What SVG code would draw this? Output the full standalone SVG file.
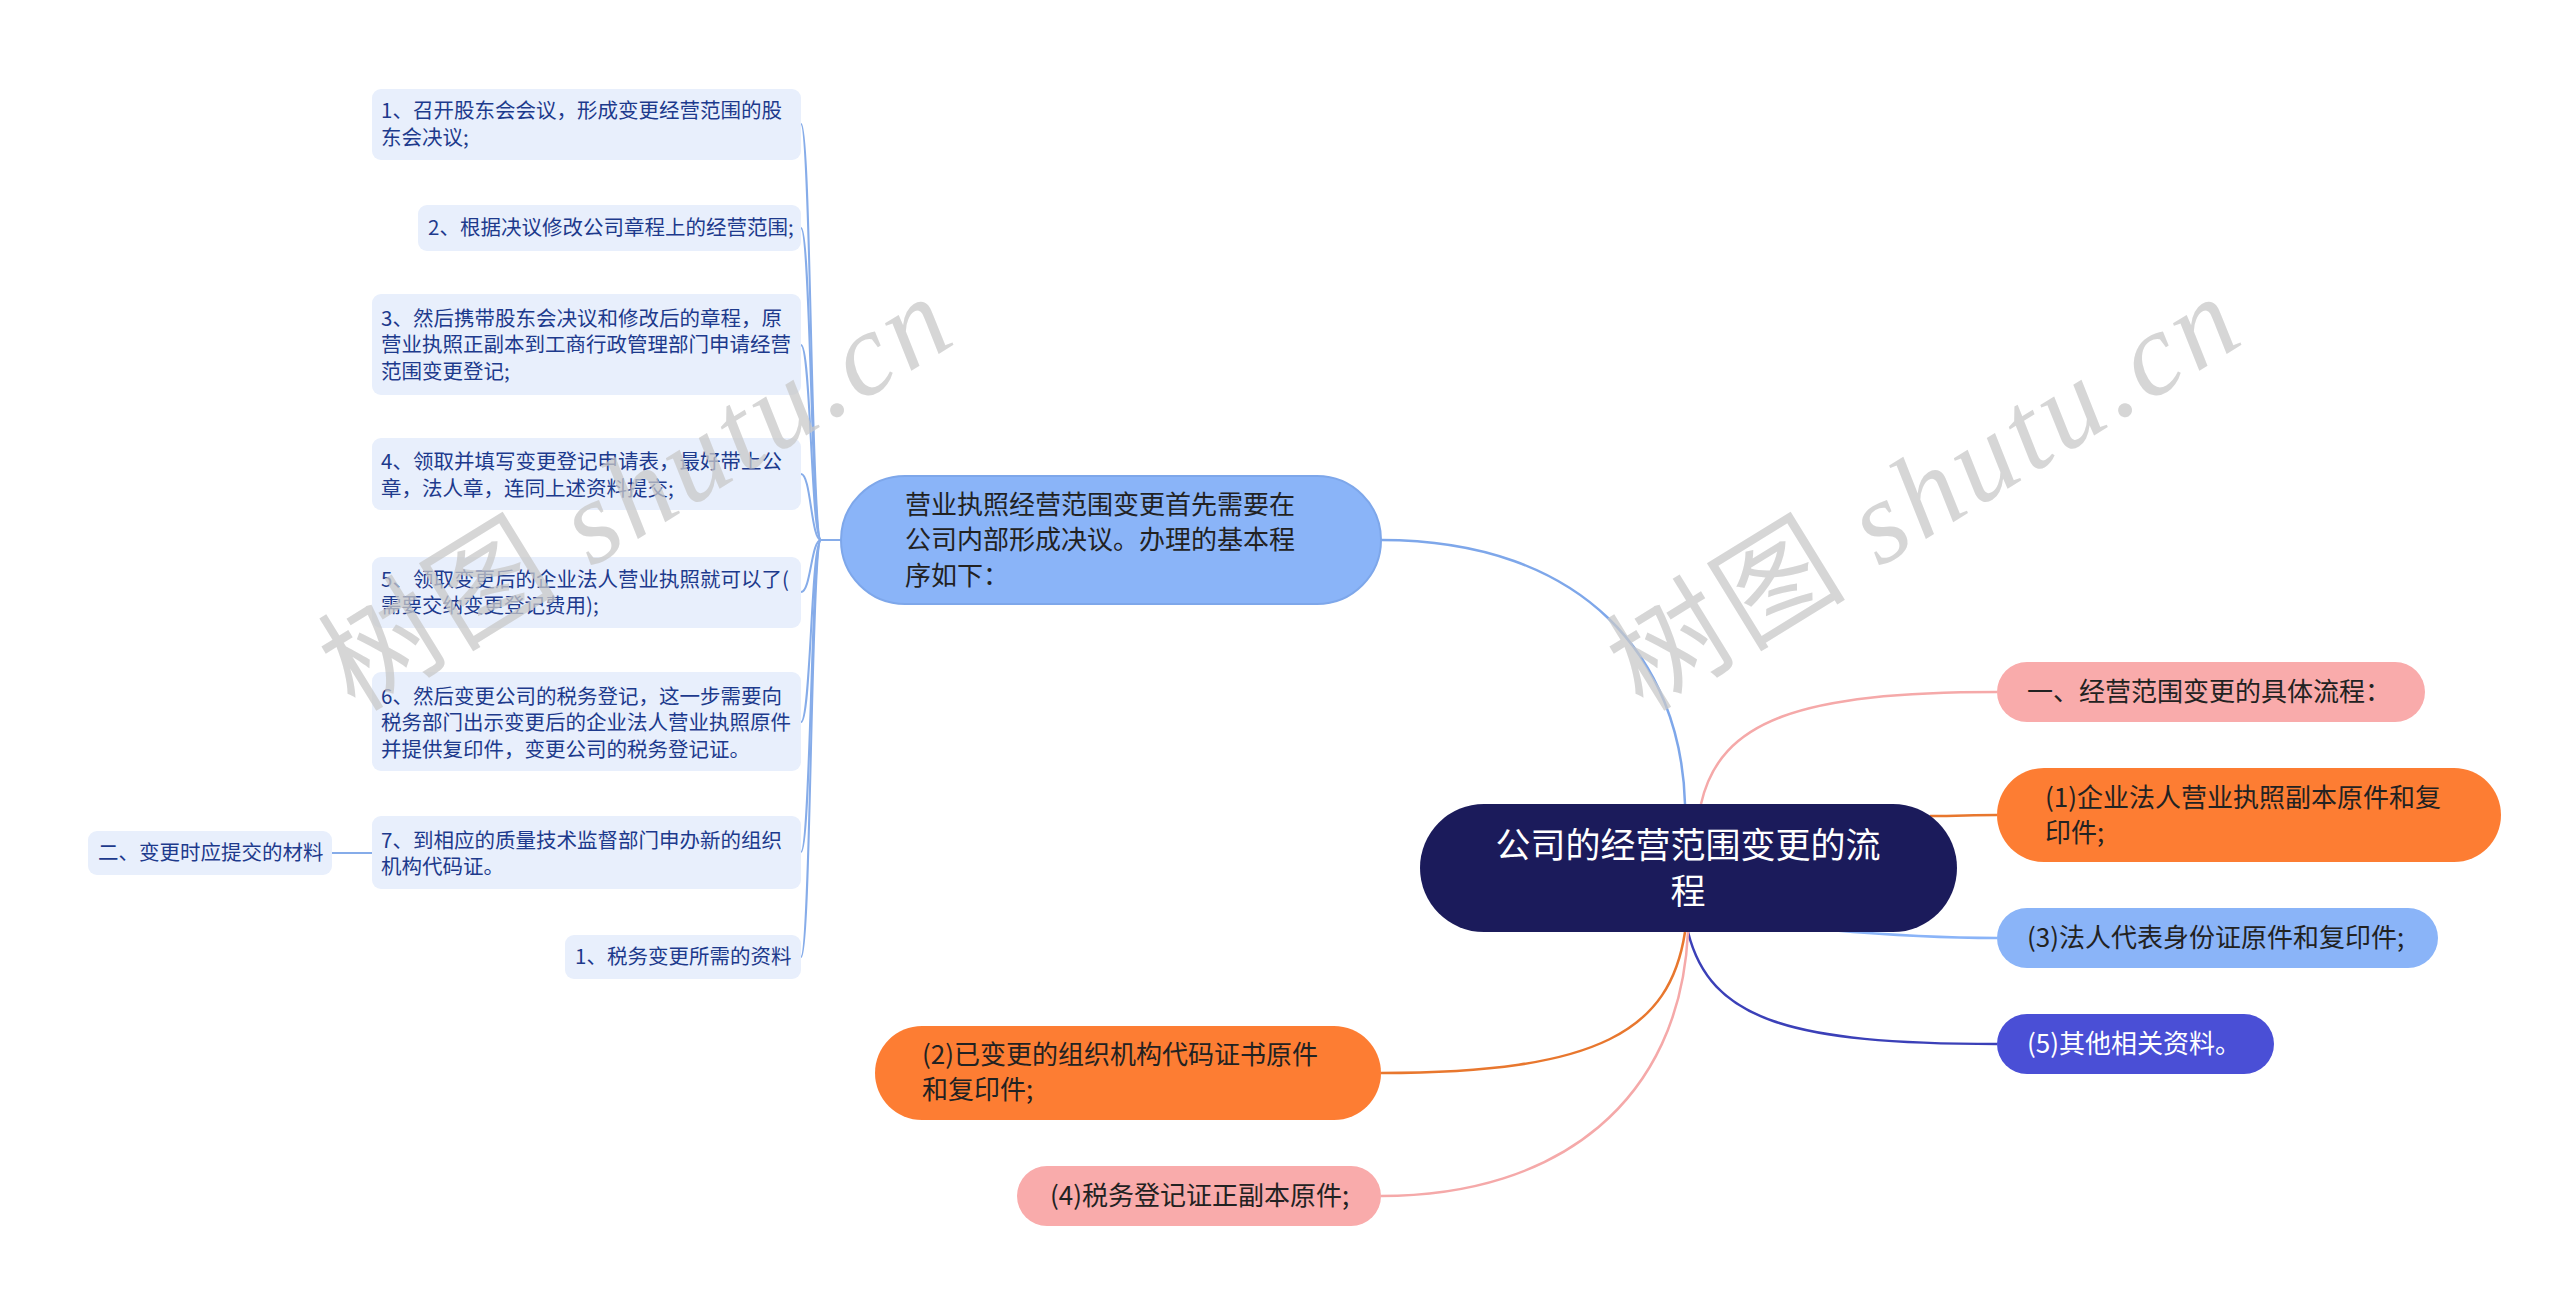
<svg xmlns="http://www.w3.org/2000/svg" width="2560" height="1299" viewBox="0 0 2560 1299">
<style>
text{font-family:"Noto Sans CJK SC","Noto Sans",sans-serif}
.leaf rect{fill:#e8effc}
.leaf text{font-size:20.5px;fill:#1d3a8c}
.lc{fill:none;stroke:#86ace9;stroke-width:2}
.c{fill:none;stroke-width:2.5}
.t26{font-size:26px;fill:#222}
.wm{font-size:118px;fill:#c9c9c9;opacity:0.75}
</style>
<rect width="2560" height="1299" fill="#fff"/>
<g id="connectors">
<path class="lc" d="M841,540 L821,540"/>
<path class="lc" d="M821,540 C811,540 811,124 801,124"/>
<path class="lc" d="M821,540 C811,540 811,228 801,228"/>
<path class="lc" d="M821,540 C811,540 811,345 801,345"/>
<path class="lc" d="M821,540 C811,540 811,474 801,474"/>
<path class="lc" d="M821,540 C811,540 811,592 801,592"/>
<path class="lc" d="M821,540 C811,540 811,722 801,722"/>
<path class="lc" d="M821,540 C811,540 811,852 801,852"/>
<path class="lc" d="M821,540 C811,540 811,957 801,957"/>
<path class="lc" d="M332,853 L372,853" stroke-width="3"/>
<path class="c" stroke="#7ea7ea" d="M1381,540 C1585,540 1681,660 1685,804"/>
<path class="c" stroke="#f5a9a9" d="M1701,804 C1720,720 1800,692 1997,692"/>
<path class="c" stroke="#e8772e" d="M1930,816 C1960,816 1970,815 1997,815"/>
<path class="c" stroke="#8ab4f8" d="M1830,930 C1900,936 1950,938 1997,938"/>
<path class="c" stroke="#3b40b8" d="M1688,932 C1710,1020 1790,1044 1997,1044"/>
<path class="c" stroke="#e8772e" d="M1685,932 C1670,1030 1600,1073 1381,1073"/>
<path class="c" stroke="#f5a9a9" d="M1688,932 C1680,1100 1560,1196 1381,1196"/>
</g>
<g id="leaf1" class="leaf"><rect x="372" y="89" width="429" height="71" rx="9"/><text x="381" y="118">1、召开股东会会议，形成变更经营范围的股</text><text x="381" y="145">东会决议;</text></g>
<g id="leaf2" class="leaf"><rect x="418" y="205" width="383" height="46" rx="9"/><text x="428" y="235">2、根据决议修改公司章程上的经营范围;</text></g>
<g id="leaf3" class="leaf"><rect x="372" y="294" width="429" height="101" rx="9"/><text x="381" y="326">3、然后携带股东会决议和修改后的章程，原</text><text x="381" y="352">营业执照正副本到工商行政管理部门申请经营</text><text x="381" y="379">范围变更登记;</text></g>
<g id="leaf4" class="leaf"><rect x="372" y="438" width="429" height="72" rx="9"/><text x="381" y="469">4、领取并填写变更登记申请表，最好带上公</text><text x="381" y="496">章，法人章，连同上述资料提交;</text></g>
<g id="leaf5" class="leaf"><rect x="372" y="557" width="429" height="71" rx="9"/><text x="381" y="587">5、领取变更后的企业法人营业执照就可以了(</text><text x="381" y="613">需要交纳变更登记费用);</text></g>
<g id="leaf6" class="leaf"><rect x="372" y="672" width="429" height="99" rx="9"/><text x="381" y="704">6、然后变更公司的税务登记，这一步需要向</text><text x="381" y="730">税务部门出示变更后的企业法人营业执照原件</text><text x="381" y="757">并提供复印件，变更公司的税务登记证。</text></g>
<g id="leaf7" class="leaf"><rect x="372" y="816" width="429" height="73" rx="9"/><text x="381" y="848">7、到相应的质量技术监督部门申办新的组织</text><text x="381" y="874">机构代码证。</text></g>
<g id="leaf8" class="leaf"><rect x="565" y="935" width="236" height="44" rx="9"/><text x="575" y="964">1、税务变更所需的资料</text></g>
<g id="leaf9" class="leaf"><rect x="88" y="831" width="244" height="44" rx="9"/><text x="98" y="860">二、变更时应提交的材料</text></g>
<g id="mid"><rect x="841" y="476" width="540" height="128" rx="64" fill="#8ab4f8" stroke="#7ea7ea" stroke-width="2"/><text class="t26" x="905" y="514">营业执照经营范围变更首先需要在</text><text class="t26" x="905" y="549">公司内部形成决议。办理的基本程</text><text class="t26" x="905" y="585">序如下：</text></g>
<g id="root"><rect x="1420" y="804" width="537" height="128" rx="64" fill="#1b1b5b"/><text x="1688" y="858" font-size="35" fill="#fff" text-anchor="middle">公司的经营范围变更的流</text><text x="1688" y="904" font-size="35" fill="#fff" text-anchor="middle">程</text></g>
<g id="r1"><rect x="1997" y="662" width="428" height="60" rx="30" fill="#f9abab"/><text class="t26" x="2027" y="701">一、经营范围变更的具体流程：</text></g>
<g id="r2"><rect x="1997" y="768" width="504" height="94" rx="47" fill="#fd7d33"/><text class="t26" x="2045" y="807">(1)企业法人营业执照副本原件和复</text><text class="t26" x="2045" y="842">印件;</text></g>
<g id="r3"><rect x="1997" y="908" width="441" height="60" rx="30" fill="#8ab4f8"/><text class="t26" x="2027" y="947">(3)法人代表身份证原件和复印件;</text></g>
<g id="r4"><rect x="1997" y="1014" width="277" height="60" rx="30" fill="#4a4fd6"/><text class="t26" x="2027" y="1053" style="fill:#fff">(5)其他相关资料。</text></g>
<g id="l1"><rect x="875" y="1026" width="506" height="94" rx="47" fill="#fd7d33"/><text class="t26" x="922" y="1064">(2)已变更的组织机构代码证书原件</text><text class="t26" x="922" y="1099">和复印件;</text></g>
<g id="l2"><rect x="1017" y="1166" width="364" height="60" rx="30" fill="#f9abab"/><text class="t26" x="1050" y="1205">(4)税务登记证正副本原件;</text></g>
<g id="watermark">
<text class="wm" transform="translate(355,713) rotate(-31.6)" textLength="708" lengthAdjust="spacing">树图 <tspan font-family="Liberation Serif" font-style="italic">shutu.cn</tspan></text>
<text class="wm" transform="translate(1643,713) rotate(-31.6)" textLength="708" lengthAdjust="spacing">树图 <tspan font-family="Liberation Serif" font-style="italic">shutu.cn</tspan></text>
</g>
</svg>
